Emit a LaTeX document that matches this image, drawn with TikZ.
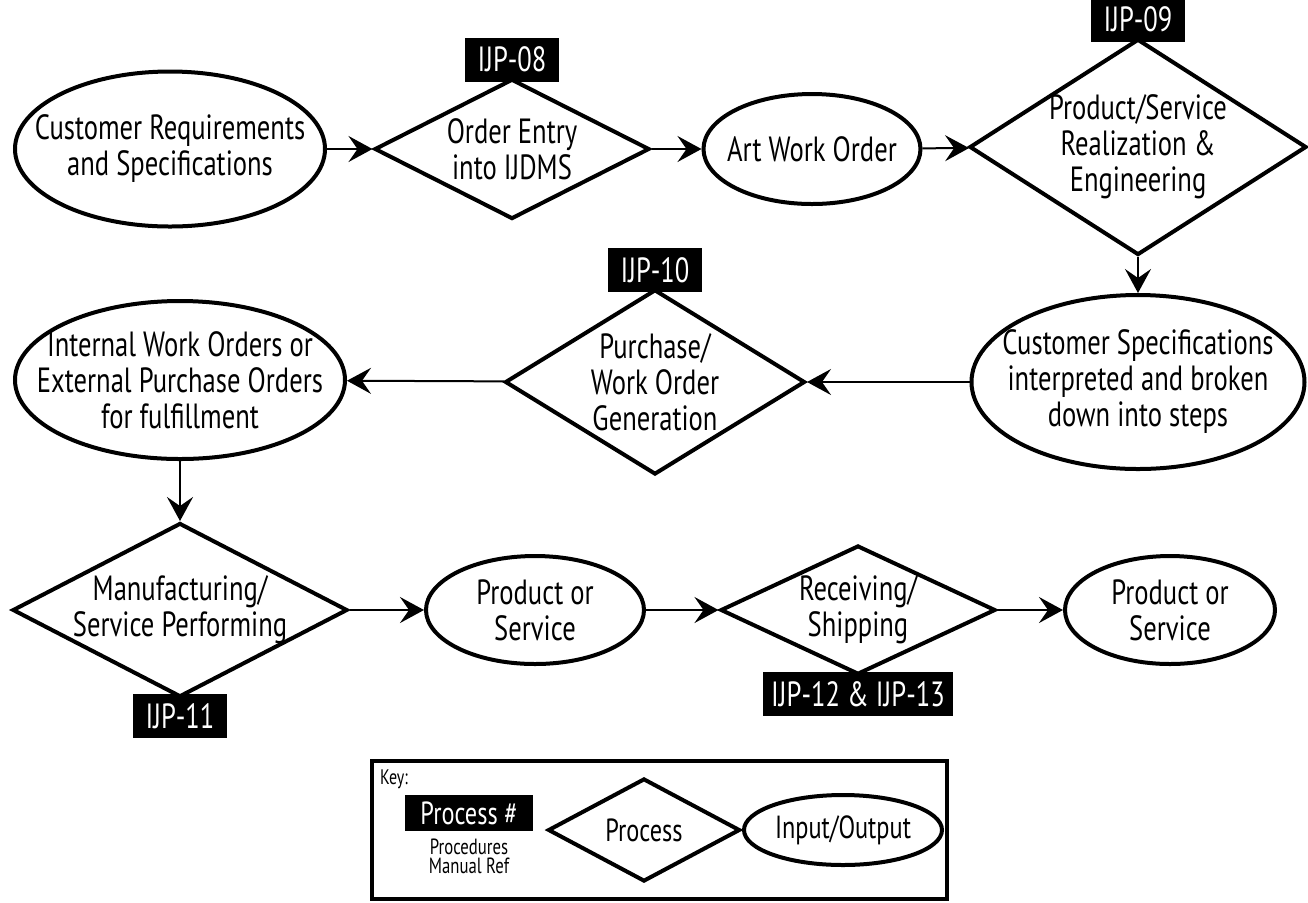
\documentclass[tikz,border=0pt]{standalone}
\usepackage{fontspec}
\setmainfont{PT Sans}[FakeStretch=0.76]
\usetikzlibrary{shapes.geometric, arrows.meta}

\newcommand{\chartfont}{\fontsize{17.5}{18}\selectfont}
\tikzset{
	io/.style={ellipse, draw, line width=2pt, inner xsep=-16pt, inner ysep=-3pt, align=center, font=\chartfont},
	proc/.style={diamond, draw, line width=2pt, inner sep=-4pt, align=center, font=\chartfont},
	ijp/.style={fill=black, text=white, inner xsep=4pt, inner ysep=0pt, minimum width=47pt, minimum height=22pt, font=\chartfont},
	flow/.style={line width=1pt, -{Stealth[length=12pt, width=13pt, inset=4.5pt]}},
}

\begin{document}
\begin{tikzpicture}[x=0.5pt, y=-0.5pt]
		\useasboundingbox (0,0) rectangle (1308,902);
		\node (custreq) at (170,149) [io, minimum width=155pt, minimum height=77.5pt] {Customer Requirements\\and Specifications};
		\node (entry) at (512,149) [proc, minimum width=137.5pt, minimum height=70pt, shape aspect=1.96,
			label={[ijp, name=ijp08, label distance=-2.5pt]above:IJP-08}] {Order Entry\\into IJDMS};
		\node (artwork) at (812,149) [io, minimum width=108.5pt, minimum height=55pt] {Art Work Order};
		\node (realize) at (1138,147) [proc, minimum width=168.5pt, minimum height=108pt, shape aspect=1.56,
			label={[ijp, name=ijp09, label distance=-2.5pt]above:IJP-09}] {Product/Service\\Realization \&\\Engineering};
		\node (interp) at (1138,382) [io, minimum width=166.5pt, minimum height=87pt] {Customer Specifications\\interpreted and broken\\down into steps};
		\node (purchase) at (655,382) [proc, minimum width=150pt, minimum height=92.5pt, shape aspect=1.62,
			label={[ijp, name=ijp10, label distance=-2.5pt]above:IJP-10}] {Purchase/\\Work Order\\Generation};
		\node (orders) at (180,380) [io, minimum width=165pt, minimum height=79pt] {Internal Work Orders or\\External Purchase Orders\\for fulfillment};
		\node (manuf) at (180,610) [proc, minimum width=167.5pt, minimum height=87pt, shape aspect=1.93,
			label={[ijp, name=ijp11, label distance=-2.5pt]below:IJP-11}] {Manufacturing/\\Service Performing};
		\node (product) at (535,610) [io, minimum width=109pt, minimum height=54pt] {Product or\\Service};
		\node (shipping) at (858,610) [proc, minimum width=137.5pt, minimum height=64.5pt, shape aspect=2.13,
			label={[ijp, name=ijp12, label distance=-2.5pt]below:IJP-12 \& IJP-13}] {Receiving/\\Shipping};
		\node (delivered) at (1170,610) [io, minimum width=105pt, minimum height=54pt] {Product or\\Service};
		\draw[flow] (custreq) -- (entry);
		\draw[flow] (entry) -- (artwork);
		\draw[flow] (artwork) -- (realize);
		\draw[flow] (realize) -- (interp);
		\draw[flow] (interp) -- (purchase);
		\draw[flow] (purchase) -- (orders);
		\draw[flow] (orders) -- (manuf);
		\draw[flow] (manuf) -- (product);
		\draw[flow] (product) -- (shipping);
		\draw[flow] (shipping) -- (delivered);
		\node (keybox) at (659.5,830) [draw, line width=2pt, minimum width=287.5pt, minimum height=69pt] {};
		\node (keyhead) at (394,779) [font=\fontsize{10.5}{11}\selectfont, inner sep=0pt] {Key:};
		\node (keyijp) at (469,813) [ijp, minimum width=64pt, minimum height=18pt, font=\fontsize{16}{17}\selectfont,
			label={[name=keynote, font=\fontsize{11}{9.5}\selectfont, align=center, inner sep=0pt, label distance=3.5pt]below:Procedures\\Manual Ref}] {Process \#};
		\node (keyproc) at (644,830) [proc, minimum width=96pt, minimum height=51.5pt, shape aspect=1.86, font=\fontsize{16}{17}\selectfont] {Process};
		\node (keyio) at (843,830) [io, minimum width=99pt, minimum height=35pt, font=\fontsize{16}{17}\selectfont] {Input/Output};
\end{tikzpicture}
\end{document}
